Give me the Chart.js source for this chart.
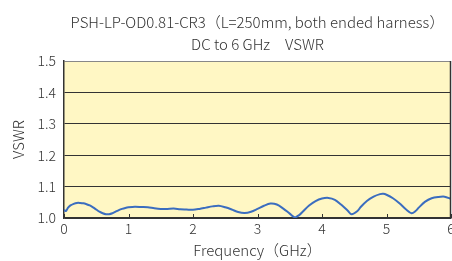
<!DOCTYPE html>
<html><head><meta charset="utf-8">
<style>html,body{margin:0;padding:0;background:#fff;overflow:hidden}#wrap{width:452px;height:261px}</style>
<script src="https://cdn.jsdelivr.net/npm/chart.js@4/dist/chart.umd.min.js"></script>
</head><body><div id="wrap"><canvas id="c" width="452" height="261"></canvas></div>
<script>
const titleLines = ["PSH-LP-OD0.81-CR3（L=250mm, both ended harness）", "DC to 6 GHz　VSWR"];
const xTitle = "Frequency（GHz）";
const yTitle = "VSWR";
const xTicks = [0,1,2,3,4,5,6];
const yTicks = [1.0,1.1,1.2,1.3,1.4,1.5];
const freq = [0,0.03,0.06,0.1,0.15,0.2,0.25,0.3,0.35,0.4,0.45,0.5,0.55,0.6,0.65,0.7,0.75,0.8,0.85,0.9,0.95,1.0,1.1,1.2,1.3,1.4,1.5,1.6,1.7,1.8,1.9,2.0,2.1,2.2,2.3,2.4,2.5,2.6,2.7,2.8,2.9,3.0,3.1,3.2,3.3,3.4,3.5,3.58,3.65,3.7,3.8,3.9,4.0,4.1,4.2,4.3,4.4,4.46,4.55,4.6,4.7,4.8,4.9,4.95,5.0,5.1,5.2,5.3,5.39,5.45,5.5,5.6,5.7,5.8,5.9,6.0];
const vswr = [1.026,1.022,1.032,1.040,1.045,1.048,1.048,1.047,1.044,1.040,1.034,1.027,1.020,1.015,1.012,1.012,1.015,1.020,1.025,1.029,1.032,1.034,1.036,1.035,1.034,1.031,1.029,1.029,1.030,1.028,1.027,1.026,1.029,1.033,1.037,1.039,1.034,1.027,1.019,1.016,1.020,1.029,1.039,1.046,1.043,1.030,1.014,1.002,1.010,1.020,1.040,1.054,1.062,1.064,1.058,1.042,1.023,1.012,1.022,1.035,1.055,1.068,1.076,1.077,1.074,1.063,1.047,1.028,1.015,1.022,1.033,1.052,1.063,1.067,1.068,1.061];

const FONT = "'Noto Sans CJK JP','Noto Sans',sans-serif";
const TXT = '#333';

const deco = {
  id: 'deco',
  beforeDraw(chart) {
    const {ctx, chartArea: a} = chart;
    ctx.save();
    ctx.fillStyle = '#FFF7C4';
    ctx.fillRect(a.left, a.top, a.right - a.left, a.bottom - a.top);
    ctx.restore();
  },
  afterDraw(chart) {
    const {ctx, chartArea: a, scales: {x, y}} = chart;
    ctx.save();
    ctx.strokeStyle = '#333';
    ctx.lineWidth = 1.5;
    ctx.beginPath(); ctx.moveTo(a.right - 0.5, a.top); ctx.lineTo(a.right - 0.5, a.bottom); ctx.stroke();
    ctx.lineWidth = 1;
    xTicks.forEach(v => {
      const px = Math.round(x.getPixelForValue(v)) + 0.5;
      ctx.beginPath(); ctx.moveTo(px, a.bottom); ctx.lineTo(px, a.bottom - 4); ctx.stroke();
    });
    ctx.fillStyle = TXT;
    ctx.font = '300 14px ' + FONT;
    ctx.textBaseline = 'middle';
    ctx.textAlign = 'right';
    yTicks.forEach(v => ctx.fillText(v.toFixed(1), a.left - 8, y.getPixelForValue(v)));
    ctx.textAlign = 'center';
    xTicks.forEach(v => ctx.fillText(String(v), x.getPixelForValue(v), a.bottom + 11));
    ctx.font = '300 15px ' + FONT;
    ctx.fillText(xTitle, (a.left + a.right) / 2, a.bottom + 32);
    ctx.fillText(titleLines[0], (a.left + a.right) / 2, 22);
    ctx.fillText(titleLines[1], (a.left + a.right) / 2, 44);
    ctx.translate(18, (a.top + a.bottom) / 2);
    ctx.rotate(-Math.PI / 2);
    ctx.fillText(yTitle, 0, 0);
    ctx.restore();
  }
};

new Chart(document.getElementById('c'), {
  type: 'line',
  data: { datasets: [{ data: freq.map((f, i) => ({x: f, y: vswr[i]})), borderColor: '#3B6DBF', borderWidth: 2, pointRadius: 0, tension: 0.3, fill: false }] },
  options: {
    responsive: false, animation: false,
    layout: { padding: { left: 64, right: 1, top: 61, bottom: 43 } },
    plugins: { legend: { display: false }, tooltip: { enabled: false } },
    scales: {
      x: { type: 'linear', min: 0, max: 6, ticks: { display: false, stepSize: 1 },
           grid: { display: false, drawTicks: false },
           border: { display: true, color: '#333', width: 1.5 } },
      y: { min: 1.0, max: 1.5, ticks: { display: false, stepSize: 0.1 },
           grid: { drawTicks: false, color: c => c.tick.value >= 1.5 ? '#888' : '#333', lineWidth: 1 },
           border: { display: true, color: '#333', width: 1.5 } }
    }
  },
  plugins: [deco]
});
</script></body></html>
